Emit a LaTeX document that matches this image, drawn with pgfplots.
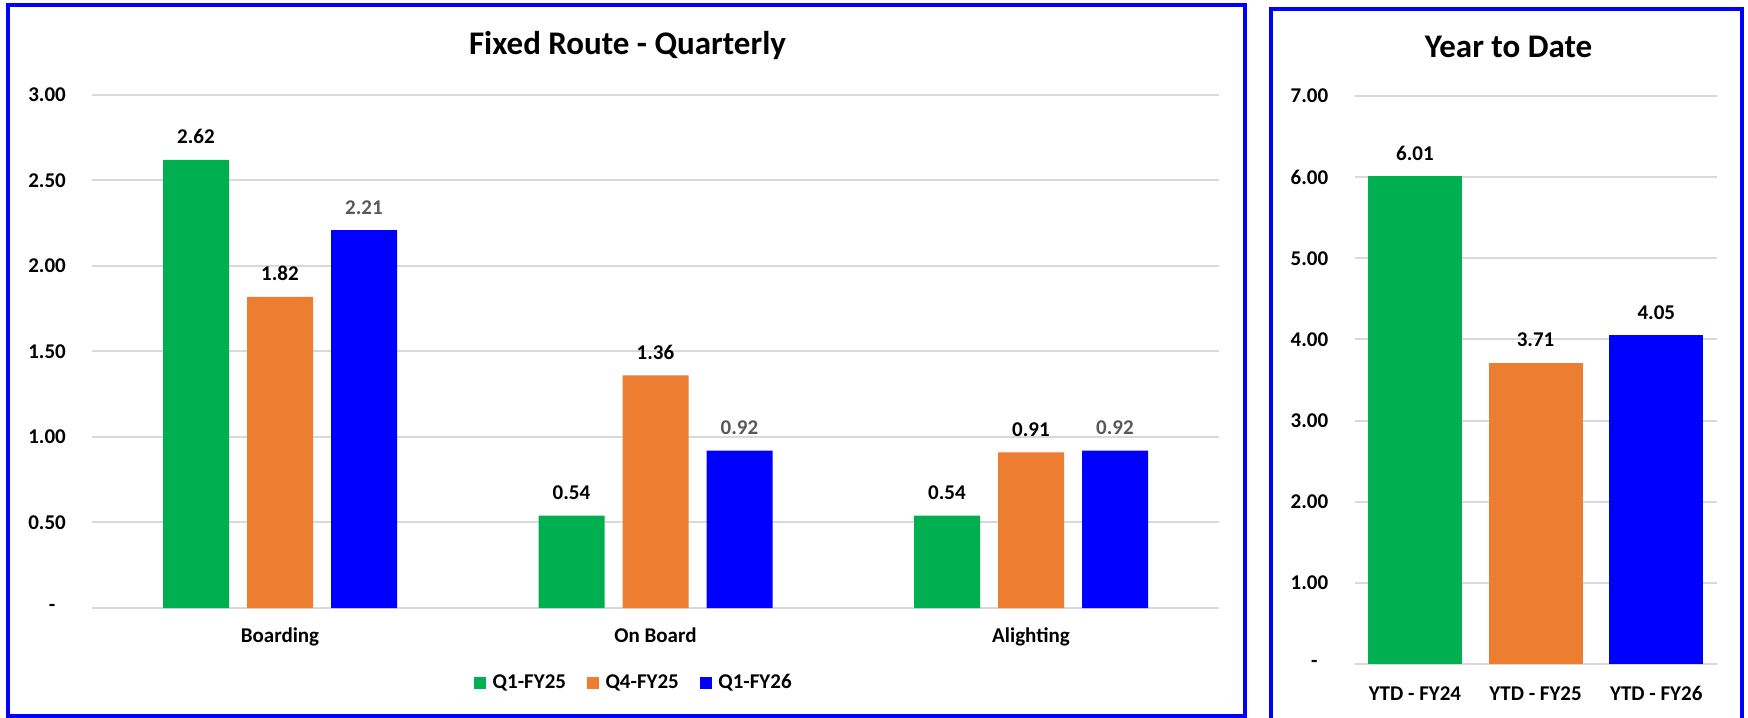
\documentclass[border=0pt]{standalone}
\usepackage{pgfplots}
\pgfplotsset{compat=1.18}
\usepackage{fontspec}
\setmainfont{Carlito}

\definecolor{grn}{HTML}{00B050}
\definecolor{org}{HTML}{ED7D31}
\definecolor{blu}{HTML}{0000FF}
\definecolor{gridgray}{HTML}{D9D9D9}
\definecolor{lblgray}{HTML}{595959}

\newcommand{\lblfont}{\fontsize{10.5bp}{12bp}\selectfont\bfseries}

\pgfplotsset{
  panel/.style={
    scale only axis, clip=false,
    axis line style={draw=none},
    major tick length=0pt,
    ymajorgrids, grid style={draw=gridgray, line width=1bp},
    xmin=-0.5, xmax=2.5, ymin=0,
    xtick={0,1,2},
    tick label style={font=\lblfont, text=black},
    yticklabel style={anchor=east, inner sep=0pt, xshift=-13bp},
    xticklabel style={anchor=north, inner sep=0pt},
    nodes near coords={\pgfmathprintnumber[fixed,fixed zerofill,precision=2]{\pgfplotspointmeta}},
    every node near coord/.append style={anchor=south, inner sep=0pt, yshift=7.75bp, font=\lblfont, text=black},
    /pgf/number format/assume math mode=true,
  },
}

\begin{document}
\begin{tikzpicture}
\useasboundingbox (0,0) rectangle (874bp,359bp);

% Quarterly panel
\begin{axis}[panel,
  at={(46.125bp,55bp)}, anchor=south west,
  width=563.25bp, height=256.5bp,
  ymax=3, ybar=9bp, bar width=33bp,
  ytick={0,0.5,1,1.5,2,2.5,3},
  yticklabels={-\hphantom{0},0.50,1.00,1.50,2.00,2.50,3.00},
  xticklabels={Boarding,On Board,Alighting},
  xticklabel style={yshift=-9.5bp},
  legend style={at={(0.4800,-0.1462)}, anchor=center, draw=none, fill=none,
    legend columns=-1, font=\lblfont, nodes={inner sep=0pt},
    /tikz/every odd column/.append style={column sep=3.25bp},
    /tikz/every even column/.append style={column sep=10.5bp}},
  legend image code/.code={\fill[#1] (0bp,-3bp) rectangle (6bp,3bp);},
]
\addplot[fill=grn, draw=none] coordinates {(0,2.62) (1,0.54) (2,0.54)};
\addplot[fill=org, draw=none] coordinates {(0,1.82) (1,1.36) (2,0.91)};
\addplot[fill=blu, draw=none,
  every node near coord/.append style={text=lblgray}]
  coordinates {(0,2.21) (1,0.92) (2,0.92)};
\legend{Q1-FY25,Q4-FY25,Q1-FY26}
\end{axis}

% Year-to-date panel
\begin{axis}[panel,
  at={(677.3bp,27bp)}, anchor=south west,
  width=181bp, height=284bp,
  ymax=7, ybar, bar width=47bp,
  ytick={0,1,2,3,4,5,6,7},
  yticklabels={-\hphantom{0},1.00,2.00,3.00,4.00,5.00,6.00,7.00},
  xticklabels={YTD - FY24,YTD - FY25,YTD - FY26},
  xticklabel style={yshift=-11bp},
]
\addplot[fill=grn, draw=none, bar shift=0pt] coordinates {(0,6.01)};
\addplot[fill=org, draw=none, bar shift=0pt] coordinates {(1,3.71)};
\addplot[fill=blu, draw=none, bar shift=0pt] coordinates {(2,4.05)};
\end{axis}

% titles
\node[anchor=base, font=\fontsize{16.5bp}{19bp}\selectfont\bfseries] at (313.75bp,331.5bp) {Fixed Route - Quarterly};
\node[anchor=base, font=\fontsize{16.5bp}{19bp}\selectfont\bfseries] at (754.25bp,330bp) {Year to Date};

% panel frames
\draw[blu, line width=2bp] (3.75bp,0.75bp) rectangle (622.5bp,356.25bp);
\draw[blu, line width=2bp] (635.5bp,-1bp) rectangle (871bp,354.25bp);
\end{tikzpicture}
\end{document}
